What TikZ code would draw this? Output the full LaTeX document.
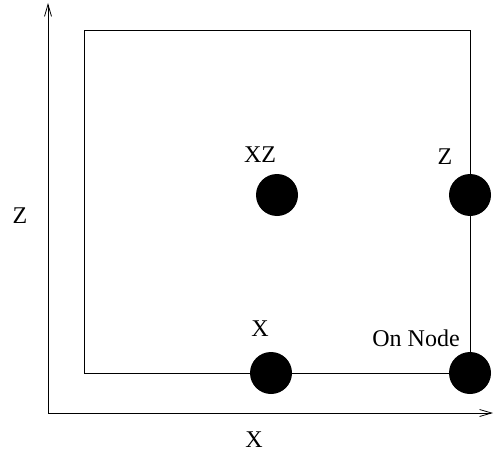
\documentclass[tikz,border=0pt]{standalone}
\usepackage{fontspec}
\setmainfont{Liberation Serif}
\usetikzlibrary{arrows.meta}

\tikzset{
  dot/.style={circle, fill=black, inner sep=0pt, minimum size=42pt},
  lbl/.style={anchor=base, inner sep=0pt, font=\fontsize{24}{28}\selectfont},
}

\begin{document}
\begin{tikzpicture}[>={Straight Barb[length=12pt,width=7pt]}, x=1pt, y=-1pt, line width=0.8pt]
\useasboundingbox (0,0) rectangle (494,457);

% Assi
\coordinate (o) at (48,413);
\coordinate (xend) at (493,413);
\coordinate (zend) at (48,3);
\draw[->] (o) -- (xend);
\draw[->] (o) -- (zend);
\node[lbl] (xaxis) at (254,447) {X};
\node[lbl] (zaxis) at (20,223) {Z};

% Cella
\coordinate (tl) at (84,30);
\coordinate (br) at (470,373);
\draw (tl) rectangle (br);

% Nodi
\node[dot] (xz) at (277,195) {};
\node[dot] (z) at (470,195) {};
\node[dot] (x) at (271,373) {};
\node[dot] (on) at (470,373) {};

% Etichette
\node[lbl] (xzlbl) at (260,162) {XZ};
\node[lbl] (zlbl) at (445,164) {Z};
\node[lbl] (xlbl) at (260,336) {X};
\node[lbl] (onlbl) at (416,346) {On Node};

\end{tikzpicture}
\end{document}
